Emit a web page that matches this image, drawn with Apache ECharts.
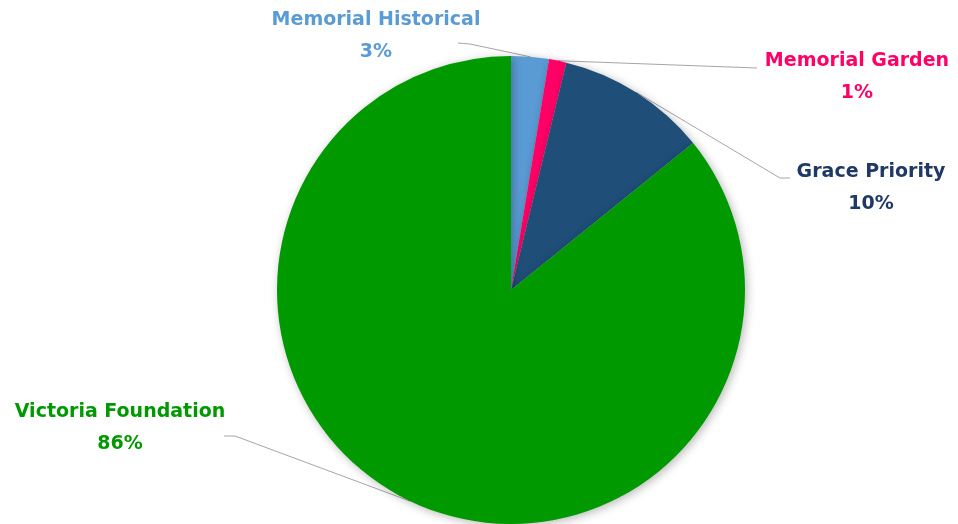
<!DOCTYPE html>
<html>
<head>
<meta charset="utf-8">
<script src="https://cdn.jsdelivr.net/npm/echarts@6/dist/echarts.min.js"></script>
<style>
  html, body { margin: 0; padding: 0; background: #fff; }
  #mychart { width: 958px; height: 524px; }
</style>
</head>
<body>
<div id="mychart"></div>
<script>
// data
const categories = ['Memorial Historical', 'Memorial Garden', 'Grace Priority', 'Victoria Foundation'];
const values = [2.6, 1.2, 10.4, 85.8];
const sliceColors = ['#5B9BD5', '#FF0066', '#1F4E79', '#009900'];
const textColors = ['#5B9BD5', '#FF0066', '#1F3864', '#009900'];

// label placement (center of the two-line label) and leader line bends
const labelPos = [
  { x: 376, y: 36, bend: [470, 44], end: [458, 43] },
  { x: 857, y: 77, bend: [757, 68], end: [757, 68] },
  { x: 871, y: 188, bend: [780, 178], end: [790, 178] },
  { x: 120, y: 428, bend: [235, 436], end: [224, 436] }
];

const chart = echarts.init(document.getElementById('mychart'));

const option = {
  backgroundColor: '#ffffff',
  animation: false,
  series: [{
    type: 'pie',
    center: [511, 290],
    radius: [0, 234],
    startAngle: 90,
    clockwise: true,
    avoidLabelOverlap: false,
    itemStyle: {
      borderWidth: 0,
      shadowBlur: 10,
      shadowColor: 'rgba(0,0,0,0.28)',
      shadowOffsetX: 2,
      shadowOffsetY: 2
    },
    label: {
      show: true,
      position: 'outside',
      fontFamily: 'DejaVu Sans',
      fontWeight: 'bold',
      fontSize: 19,
      lineHeight: 32,
      align: 'center',
      formatter: function (p) {
        return p.name + '\n' + Math.round(p.percent) + '%';
      }
    },
    labelLine: {
      show: true,
      length: 20,
      length2: 20,
      lineStyle: { color: '#a6a6a6', width: 1 }
    },
    labelLayout: function (params) {
      const lp = labelPos[params.dataIndex];
      const start = params.labelLinePoints ? params.labelLinePoints[0] : [lp.bend[0], lp.bend[1]];
      return {
        x: lp.x,
        y: lp.y,
        align: 'center',
        verticalAlign: 'middle',
        labelLinePoints: [start, lp.bend, lp.end]
      };
    },
    data: categories.map(function (name, i) {
      return {
        name: name,
        value: values[i],
        itemStyle: { color: sliceColors[i] },
        label: { color: textColors[i] }
      };
    })
  }]
};

chart.setOption(option);
</script>
</body>
</html>
